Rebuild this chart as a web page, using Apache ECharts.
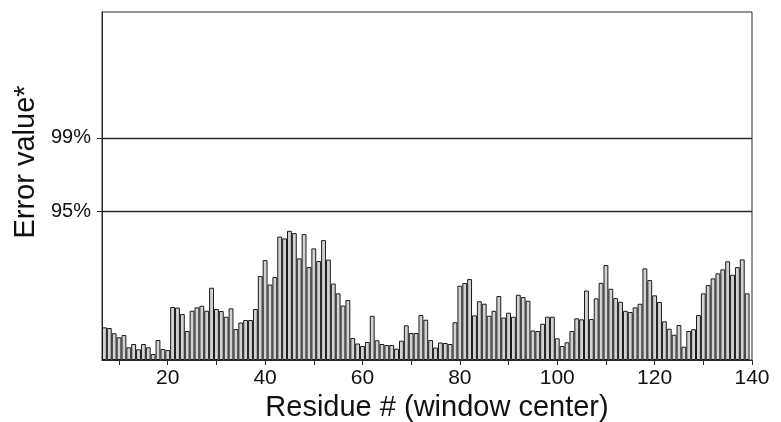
<!DOCTYPE html>
<html>
<head>
<meta charset="utf-8">
<script src="https://cdn.jsdelivr.net/npm/echarts@6/dist/echarts.min.js"></script>
<style>
  html, body { margin: 0; padding: 0; background: #ffffff; }
  #chart { width: 781px; height: 422px; }
</style>
</head>
<body>
<div id="chart"></div>
<script>
// Residue number at the centre of each scoring window
const residues = [
  7, 8, 9, 10, 11, 12, 13, 14, 15, 16, 17, 18, 19, 20, 21, 22, 23, 24, 25, 26,
  27, 28, 29, 30, 31, 32, 33, 34, 35, 36, 37, 38, 39, 40, 41, 42, 43, 44, 45, 46,
  47, 48, 49, 50, 51, 52, 53, 54, 55, 56, 57, 58, 59, 60, 61, 62, 63, 64, 65, 66,
  67, 68, 69, 70, 71, 72, 73, 74, 75, 76, 77, 78, 79, 80, 81, 82, 83, 84, 85, 86,
  87, 88, 89, 90, 91, 92, 93, 94, 95, 96, 97, 98, 99, 100, 101, 102, 103, 104, 105, 106,
  107, 108, 109, 110, 111, 112, 113, 114, 115, 116, 117, 118, 119, 120, 121, 122, 123, 124, 125, 126,
  127, 128, 129, 130, 131, 132, 133, 134, 135, 136, 137, 138, 139
];

// Error value for each window (arbitrary units)
const errorValues = [
  32.7, 32.0, 26.7, 22.7, 25.0, 12.7, 16.0, 10.7, 16.0, 12.7,
  6.0, 20.0, 11.0, 10.0, 53.0, 52.5, 46.0, 29.0, 49.3, 52.7,
  54.3, 49.3, 72.3, 51.0, 49.0, 43.3, 51.7, 31.0, 37.5, 40.0,
  40.0, 51.0, 84.0, 100.0, 75.5, 83.0, 123.5, 121.7, 129.3, 127.0,
  101.7, 126.0, 93.0, 111.7, 99.0, 120.0, 100.5, 76.5, 66.7, 54.5,
  60.0, 22.0, 16.5, 14.0, 18.0, 44.2, 19.7, 16.0, 15.0, 15.0,
  11.3, 19.3, 34.7, 27.0, 27.0, 45.0, 40.3, 20.0, 12.5, 17.5,
  17.0, 16.0, 37.8, 74.3, 77.0, 81.0, 44.7, 58.8, 56.3, 44.3,
  49.2, 64.0, 42.5, 47.3, 43.3, 65.3, 63.0, 59.3, 29.5, 29.0,
  36.3, 43.3, 43.3, 21.7, 14.0, 17.7, 29.0, 41.7, 40.7, 69.5,
  41.0, 61.7, 77.2, 95.0, 71.3, 62.0, 58.3, 49.2, 48.0, 52.7,
  56.3, 91.7, 80.0, 64.7, 58.0, 38.7, 31.3, 25.3, 35.0, 13.3,
  29.0, 30.8, 45.0, 66.7, 75.0, 81.7, 86.7, 90.7, 98.8, 85.3,
  93.0, 100.7, 66.7
];

// Significance thresholds drawn as horizontal reference lines
const thresholdValues = [149, 222.3];
const thresholdLabels = ['95%', '99%'];

// Axis tick positions and labels
const xTickValues = [10, 20, 30, 40, 50, 60, 70, 80, 90, 100, 110, 120, 130, 140];
const xLabelValues = [20, 40, 60, 80, 100, 120, 140];

const xMin = 6.5, xMax = 140;
const yMin = 0, yMax = 348.3;

const grid = { left: 102, right: 29, top: 12, bottom: 62 };
const chartWidth = 781;
const barWidthPx = (chartWidth - grid.left - grid.right) / (xMax - xMin);

const chart = echarts.init(document.getElementById('chart'), null, { renderer: 'canvas' });

const ink = '#111111';
const fontFamily = '"Liberation Sans", Arial, sans-serif';

chart.setOption({
  animation: false,
  backgroundColor: '#ffffff',
  grid: {
    left: grid.left, right: grid.right, top: grid.top, bottom: grid.bottom,
    outerBoundsMode: 'none',
    containLabel: false,
    show: true, borderColor: '#2a2a2a', borderWidth: 1, backgroundColor: 'transparent'
  },
  xAxis: {
    type: 'value',
    min: xMin,
    max: xMax,
    name: 'Residue # (window center)',
    nameLocation: 'middle',
    nameGap: 30,
    nameTextStyle: { fontSize: 29, color: ink, fontFamily: fontFamily, padding: [0, 0, 0, 20] },
    axisLine: { show: true, lineStyle: { color: '#2a2a2a', width: 1 } },
    axisTick: { show: true, customValues: xTickValues, length: 5, lineStyle: { color: '#2a2a2a' } },
    axisLabel: {
      customValues: xLabelValues,
      fontSize: 21, color: ink, fontFamily: fontFamily, margin: 8,
      showMaxLabel: true
    },
    splitLine: { show: false }
  },
  yAxis: {
    type: 'value',
    min: yMin,
    max: yMax,
    name: 'Error value*',
    nameLocation: 'middle',
    nameGap: 62,
    nameTextStyle: { fontSize: 29, color: ink, fontFamily: fontFamily, padding: [0, 0, 0, 48] },
    axisLine: { show: true, lineStyle: { color: '#2a2a2a', width: 1 } },
    axisTick: { show: true, customValues: thresholdValues, length: 5, lineStyle: { color: '#2a2a2a' } },
    axisLabel: {
      customValues: thresholdValues,
      fontSize: 20, color: ink, fontFamily: fontFamily, margin: 11,
      formatter: function (v) {
        const i = thresholdValues.indexOf(v);
        return i >= 0 ? thresholdLabels[i] : '';
      }
    },
    splitLine: { show: false }
  },
  series: [{
    type: 'bar',
    data: residues.map(function (r, i) { return [r, errorValues[i]]; }),
    barWidth: barWidthPx,
    itemStyle: { color: '#d2d2d2', borderColor: '#1a1a1a', borderWidth: 1 },
    silent: true,
    markLine: {
      silent: true,
      symbol: 'none',
      label: { show: false },
      lineStyle: { color: '#2a2a2a', width: 1.3, type: 'solid' },
      data: thresholdValues.map(function (v) { return { yAxis: v }; })
    }
  }]
});
</script>
</body>
</html>
